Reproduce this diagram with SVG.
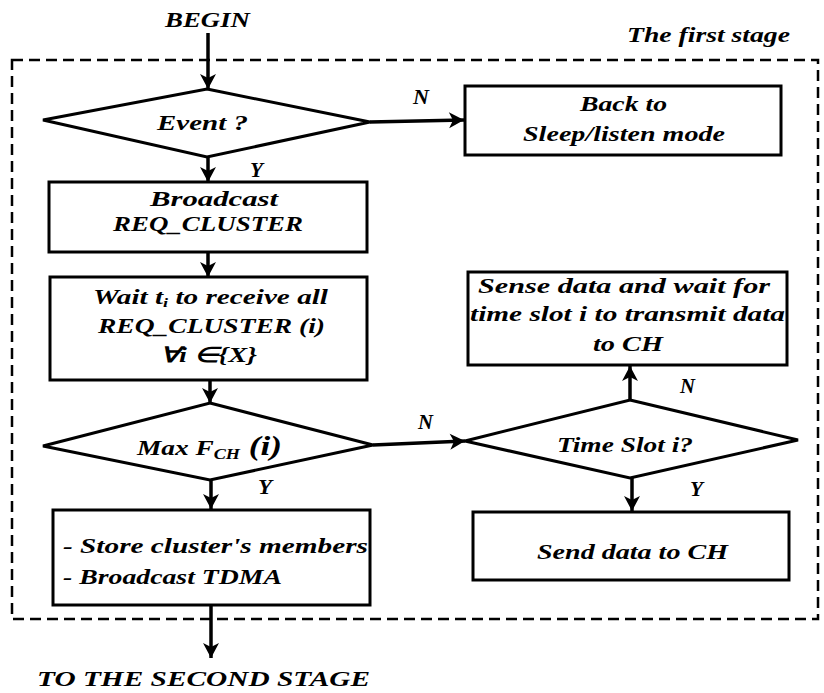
<svg xmlns="http://www.w3.org/2000/svg" width="824" height="693" viewBox="0 0 824 693">
<defs>
<style>
.t{font-family:"Liberation Serif","Times New Roman",serif;font-weight:bold;font-style:italic;font-size:21px;fill:#000;}
.c{text-anchor:middle;}
.box{fill:#fff;stroke:#000;stroke-width:3;}
.con{stroke:#000;stroke-width:3.5;fill:none;}
.stage{fill:none;stroke:#000;stroke-width:2.5;stroke-dasharray:11 6;}
</style>
<marker id="ah" markerUnits="userSpaceOnUse" markerWidth="18" markerHeight="18" viewBox="0 0 18 18" refX="16" refY="9" orient="auto">
<path d="M1,1 L16,9 L1,17 L5,9 Z" fill="#000"/>
</marker>
</defs>
<rect width="824" height="693" fill="#fff"/>

<g id="stage1">
<rect class="stage" x="12" y="60" width="806" height="559"/>
<text class="t" x="627" y="42" textLength="163" lengthAdjust="spacingAndGlyphs">The first stage</text>
</g>

<g id="connectors">
<line class="con" x1="208" y1="33" x2="208" y2="89" marker-end="url(#ah)"/>
<line class="con" x1="370" y1="122" x2="464" y2="120" marker-end="url(#ah)"/>
<line class="con" x1="208" y1="157" x2="208" y2="182" marker-end="url(#ah)"/>
<line class="con" x1="208" y1="252" x2="208" y2="277" marker-end="url(#ah)"/>
<line class="con" x1="210" y1="380" x2="210" y2="403" marker-end="url(#ah)"/>
<line class="con" x1="373" y1="445" x2="465" y2="441" marker-end="url(#ah)"/>
<line class="con" x1="630" y1="400" x2="630" y2="366" marker-end="url(#ah)"/>
<line class="con" x1="632" y1="478" x2="632" y2="511" marker-end="url(#ah)"/>
<line class="con" x1="211" y1="480" x2="211" y2="509" marker-end="url(#ah)"/>
<line class="con" x1="211" y1="605" x2="211" y2="658" marker-end="url(#ah)"/>
<text class="t" x="413" y="104" textLength="16" lengthAdjust="spacingAndGlyphs">N</text>
<text class="t" x="250" y="177" textLength="13" lengthAdjust="spacingAndGlyphs">Y</text>
<text class="t" x="418" y="429" textLength="15" lengthAdjust="spacingAndGlyphs">N</text>
<text class="t" x="680" y="393" textLength="15" lengthAdjust="spacingAndGlyphs">N</text>
<text class="t" x="258" y="494" textLength="14" lengthAdjust="spacingAndGlyphs">Y</text>
<text class="t" x="690" y="496" textLength="13" lengthAdjust="spacingAndGlyphs">Y</text>
</g>

<g id="begin">
<text class="t" x="165" y="27" textLength="85" lengthAdjust="spacingAndGlyphs">BEGIN</text>
</g>

<g id="event">
<polygon class="box" points="207,89 370,122 207,157 43,120"/>
<text class="t" x="157" y="130" textLength="91" lengthAdjust="spacingAndGlyphs">Event ?</text>
</g>

<g id="back">
<rect class="box" x="465" y="86" width="316" height="69"/>
<text class="t" x="580" y="111" textLength="87" lengthAdjust="spacingAndGlyphs">Back to</text>
<text class="t" x="523" y="141" textLength="202" lengthAdjust="spacingAndGlyphs">Sleep/listen mode</text>
</g>

<g id="broadcast">
<rect class="box" x="49" y="182" width="318" height="70"/>
<text class="t" x="150" y="206" textLength="128" lengthAdjust="spacingAndGlyphs">Broadcast</text>
<text class="t" x="113" y="231" textLength="190" lengthAdjust="spacingAndGlyphs">REQ_CLUSTER</text>
</g>

<g id="wait">
<rect class="box" x="50" y="277" width="317" height="103"/>
<text class="t" x="93" y="304" textLength="235" lengthAdjust="spacingAndGlyphs">Wait t<tspan font-size="13" dy="3">i</tspan><tspan dy="-3"> to receive all</tspan></text>
<text class="t" x="98" y="333" textLength="227" lengthAdjust="spacingAndGlyphs">REQ_CLUSTER (i)</text>
<text class="t" x="160" y="362" textLength="97" lengthAdjust="spacingAndGlyphs">∀i ∈{X}</text>
</g>

<g id="maxfch">
<polygon class="box" points="210,403 373,445 210,480 43,446"/>
<text class="t" x="137" y="455" textLength="145" lengthAdjust="spacingAndGlyphs">Max F<tspan font-size="14" dy="4">CH</tspan><tspan dy="-4" font-size="27"> (i)</tspan></text>
</g>

<g id="timeslot">
<polygon class="box" points="630,400 798,440 630,478 465,441"/>
<text class="t" x="557" y="452" textLength="136" lengthAdjust="spacingAndGlyphs">Time Slot i?</text>
</g>

<g id="sense">
<rect class="box" x="468" y="272" width="319" height="93"/>
<text class="t" x="478" y="293" textLength="292" lengthAdjust="spacingAndGlyphs">Sense data and wait for</text>
<text class="t" x="470" y="321" textLength="315" lengthAdjust="spacingAndGlyphs">time slot i to transmit data</text>
<text class="t" x="593" y="351" textLength="70" lengthAdjust="spacingAndGlyphs">to CH</text>
</g>

<g id="send">
<rect class="box" x="473" y="512" width="316" height="68"/>
<text class="t" x="537" y="559" textLength="191" lengthAdjust="spacingAndGlyphs">Send data to CH</text>
</g>

<g id="store">
<rect class="box" x="53" y="510" width="317" height="95"/>
<text class="t" x="63" y="553" textLength="305" lengthAdjust="spacingAndGlyphs">- Store cluster's members</text>
<text class="t" x="63" y="584" textLength="219" lengthAdjust="spacingAndGlyphs">- Broadcast TDMA</text>
</g>

<g id="second">
<text class="t" x="37" y="686" textLength="333" lengthAdjust="spacingAndGlyphs" font-size="28">TO THE SECOND STAGE</text>
</g>
</svg>
